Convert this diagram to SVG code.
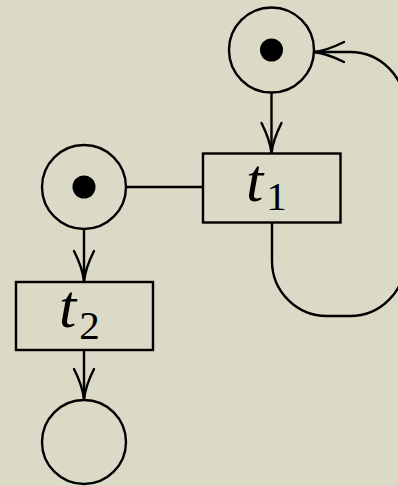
<svg xmlns="http://www.w3.org/2000/svg" width="398" height="486" viewBox="0 0 398 486">
<defs>
<marker id="arr" markerUnits="userSpaceOnUse" viewBox="-33 -13 36 26" refX="0" refY="0" markerWidth="36" markerHeight="26" orient="auto" overflow="visible">
<path d="M-30,-10 Q-13,-1.5 0,0 Q-13,1.5 -30,10" fill="none" stroke="#000" stroke-width="2.4" stroke-linecap="round"/>
</marker>
</defs>
<style>
.pl{fill:none;stroke:#000;stroke-width:2.4}
.tr{fill:none;stroke:#000;stroke-width:2.4}
.tok{fill:#000}
.ed{fill:none;stroke:#000;stroke-width:2.4}
.lb{font-family:"Liberation Serif",serif;font-style:italic;font-size:62px;fill:#000}
.sb{font-family:"Liberation Serif",serif;font-style:normal;font-size:41px}
</style>
<rect width="398" height="486" fill="#dbdac6"/>
<g id="edges">
<path class="ed" d="M271.5,92.5 L271.5,153" marker-end="url(#arr)"/>
<path class="ed" d="M126,187 L203,187"/>
<path class="ed" d="M84,229 L84,281" marker-end="url(#arr)"/>
<path class="ed" d="M84,350 L84,399" marker-end="url(#arr)"/>
<path class="ed" d="M272,223 L272,261 A55,55 0 0 0 327,316 L350,316 A55,55 0 0 0 405,261 L405,107 A55,55 0 0 0 350,52 L314,52" marker-end="url(#arr)"/>
</g>
<g id="p1">
<circle class="pl" cx="271.5" cy="50" r="42.5"/>
<circle class="tok" cx="271.5" cy="50" r="11.5"/>
</g>
<g id="p2">
<circle class="pl" cx="84" cy="187" r="42"/>
<circle class="tok" cx="84" cy="187" r="11.5"/>
</g>
<g id="p3">
<circle class="pl" cx="84" cy="442" r="42"/>
</g>
<g id="t1">
<rect class="tr" x="203" y="153.5" width="137.5" height="69"/>
<text class="lb" x="246" y="201">t<tspan class="sb" dx="3" dy="9">1</tspan></text>
</g>
<g id="t2">
<rect class="tr" x="16" y="282" width="137" height="68"/>
<text class="lb" x="59" y="327">t<tspan class="sb" dx="3" dy="12">2</tspan></text>
</g>
</svg>
